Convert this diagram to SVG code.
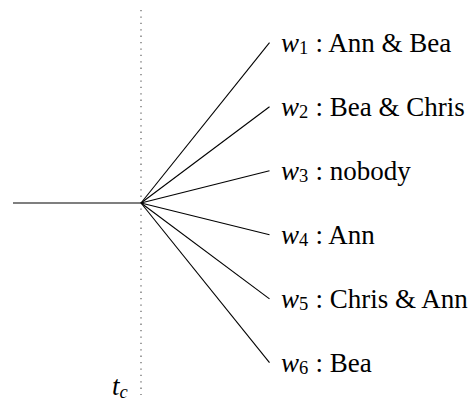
<svg xmlns="http://www.w3.org/2000/svg" width="469" height="406" viewBox="0 0 469 406">
<style>
.e{stroke:#000;stroke-width:1.1;fill:none}
.d{stroke:#808080;stroke-width:1.5;stroke-dasharray:1.3 5.1;fill:none}
text{font-family:"Liberation Serif","Times New Roman",serif;font-size:27px;fill:#000}
.i{font-style:italic}
.s{font-size:18.5px}
</style>
<g id="axis">
<line class="d" x1="141" y1="10" x2="141" y2="395"/>
<text x="112" y="395" font-family="Liberation Serif, serif"><tspan class="i">t</tspan><tspan class="i s" dy="3">c</tspan></text>
</g>
<g id="edges">
<line class="e" x1="13" y1="203" x2="141" y2="203"/>
<line class="e" x1="141" y1="203" x2="269.5" y2="42.7"/>
<line class="e" x1="141" y1="203" x2="269.5" y2="106.7"/>
<line class="e" x1="141" y1="203" x2="269.5" y2="170.8"/>
<line class="e" x1="141" y1="203" x2="269.5" y2="234.8"/>
<line class="e" x1="141" y1="203" x2="269.5" y2="298.9"/>
<line class="e" x1="141" y1="203" x2="269.5" y2="362.7"/>
</g>
<g id="w1"><text x="281" y="51.7" font-family="Liberation Serif, serif"><tspan class="i">w</tspan><tspan class="s" dy="2.5">1</tspan><tspan x="315.5" dy="-2.5">: Ann &amp; Bea</tspan></text></g>
<g id="w2"><text x="281" y="115.7" font-family="Liberation Serif, serif"><tspan class="i">w</tspan><tspan class="s" dy="2.5">2</tspan><tspan x="315.5" dy="-2.5">: Bea &amp; Chris</tspan></text></g>
<g id="w3"><text x="281" y="179.7" font-family="Liberation Serif, serif"><tspan class="i">w</tspan><tspan class="s" dy="2.5">3</tspan><tspan x="315.5" dy="-2.5">: nobody</tspan></text></g>
<g id="w4"><text x="281" y="243.7" font-family="Liberation Serif, serif"><tspan class="i">w</tspan><tspan class="s" dy="2.5">4</tspan><tspan x="315.5" dy="-2.5">: Ann</tspan></text></g>
<g id="w5"><text x="281" y="307.7" font-family="Liberation Serif, serif"><tspan class="i">w</tspan><tspan class="s" dy="2.5">5</tspan><tspan x="315.5" dy="-2.5">: Chris &amp; Ann</tspan></text></g>
<g id="w6"><text x="281" y="371.7" font-family="Liberation Serif, serif"><tspan class="i">w</tspan><tspan class="s" dy="2.5">6</tspan><tspan x="315.5" dy="-2.5">: Bea</tspan></text></g>
</svg>
